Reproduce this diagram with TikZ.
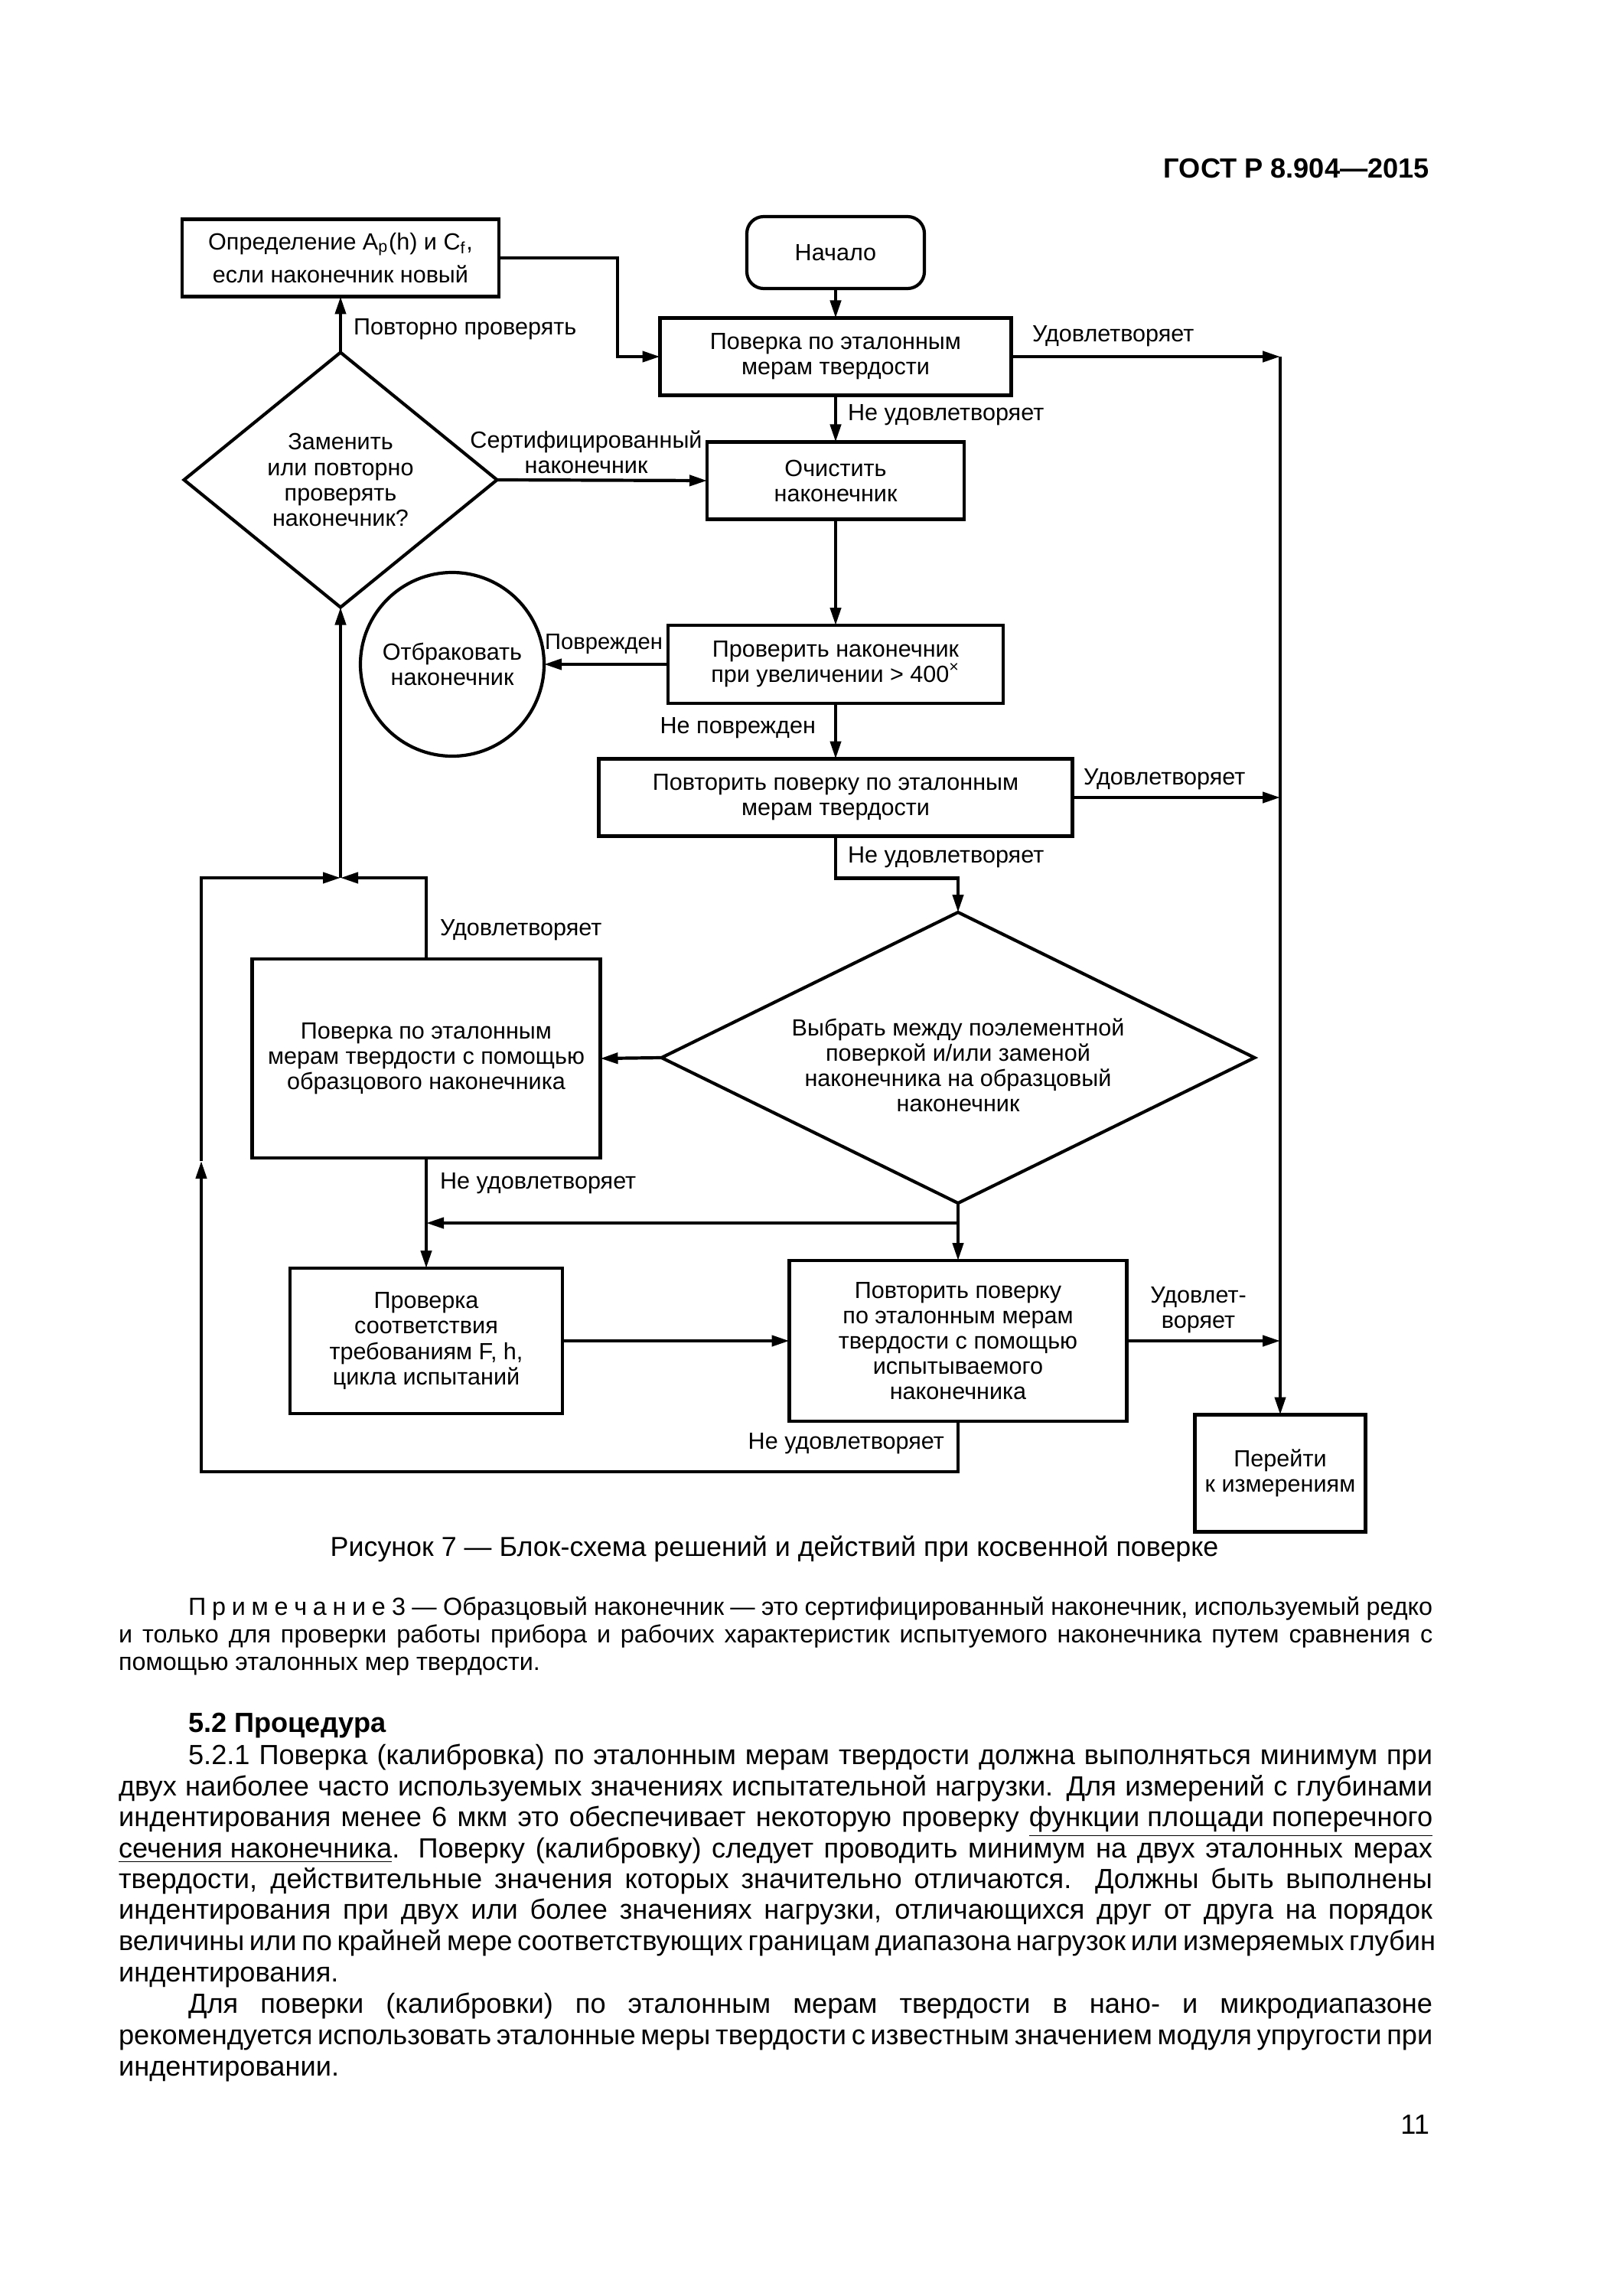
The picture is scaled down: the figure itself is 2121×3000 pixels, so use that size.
\documentclass[tikz,border=0pt]{standalone}
\usepackage{fontspec}
\setmainfont{Liberation Sans}
\usetikzlibrary{shapes.geometric,arrows.meta,positioning}

\newcommand\chartfont{\fontsize{8.7}{9.4}\selectfont}
\newcommand\bodyfont{\fontsize{10.3}{12}\selectfont}
\newcommand\notefont{\fontsize{9.2}{10.5}\selectfont}

\tikzset{
  block/.style={draw, align=center, font=\chartfont, inner sep=0pt, outer sep=0pt},
  arr/.style={-{Triangle[length=2.3mm,width=1.4mm]}},
  lbl/.style={font=\chartfont, inner sep=0pt, align=center},
  txt/.style={inner sep=0pt, anchor=base west}
}

\begin{document}
\begin{tikzpicture}[x=0.1mm,y=-0.1mm,line width=0.42mm]
\useasboundingbox (0,0) rectangle (2121,3000);

% boxes
\node[block, minimum width=41.4mm, minimum height=10.1mm] (newtip) at (445,337) {Определение A\textsubscript{p}(h) и C\textsubscript{f},\\[1mm]если наконечник новый};
\node[block, rounded corners=2.2mm, minimum width=23.2mm, minimum height=9.4mm] (start) at (1092,330) {Начало};
\node[block, minimum width=45.9mm, minimum height=10.1mm] (check1) at (1092,466) {Поверка по эталонным\\мерам твердости};
\node[block, minimum width=33.6mm, minimum height=10.1mm] (clean) at (1092,628) {Очистить\\наконечник};
\node[block, minimum width=43.8mm, minimum height=10.2mm] (insp) at (1092,868) {Проверить наконечник\\при увеличении > 400\textsuperscript{×}};
\node[block, circle, minimum size=24mm] (reject) at (591,868) {Отбраковать\\наконечник};
\node[block, minimum width=61.9mm, minimum height=10.1mm] (rep1) at (1092,1042) {Повторить поверку по эталонным\\мерам твердости};
\node[block, minimum width=45.5mm, minimum height=26mm] (refbox) at (557,1383) {Поверка по эталонным\\мерам твердости с помощью\\образцового наконечника};
\node[block, minimum width=35.6mm, minimum height=19mm] (reqbox) at (557,1752) {Проверка\\соответствия\\требованиям F, h,\\цикла испытаний};
\node[block, minimum width=44.1mm, minimum height=21mm] (rep2) at (1252,1752) {Повторить поверку\\по эталонным мерам\\твердости с помощью\\испытываемого\\наконечника};
\node[block, minimum width=22.3mm, minimum height=15.3mm] (go) at (1673,1925) {Перейти\\к измерениям};

% decisions
\node[block, diamond, minimum width=40.9mm, minimum height=33.3mm] (dec1) at (445,627) {};
\node[lbl] (dec1txt) at (dec1) {Заменить\\или повторно\\проверять\\наконечник?};
\node[block, diamond, minimum width=77.5mm, minimum height=38mm] (dec2) at (1252,1382) {};
\node[lbl] (dec2txt) at (1252,1392) {Выбрать между поэлементной\\поверкой и/или заменой\\наконечника на образцовый\\наконечник};

% connectors
\coordinate (rtop) at (1673,466);
\coordinate (junc) at (445,1147);
\coordinate (lowleft) at (263,1923);
\coordinate (midleft) at (263,1517);
\coordinate (split) at (1252,1598);
\draw[arr] (start) -- (check1);
\draw[arr] (check1) -- (clean);
\draw[arr] (clean) -- (insp);
\draw[arr] (insp) -- (rep1);
\draw[arr] (newtip.east) -- ++(155,0) |- (check1.west);
\draw[arr] (check1.east) -- (rtop);
\draw[arr] (rep1.east) -- (rep1.east -| rtop);
\draw[arr] (rep2.east) -- (rep2.east -| rtop);
\draw[arr] (rtop) -- (go.north);
\draw[arr] (dec1.north) -- (newtip.south);
\draw[arr] (dec1.east) -- (clean.west);
\draw[arr] (insp.west) -- (reject.east);
\draw[arr] (rep1.south) -- ++(0,55) -| (dec2.north);
\draw[arr] (dec2.west) -- (refbox.east);
\draw[arr] (refbox.north) |- (junc);
\draw[arr] (junc) -- (dec1.south);
\draw[arr] (rep2.south) |- (lowleft) -- (midleft);
\draw[arr] (midleft) |- (junc);
\draw[arr] (refbox.south) -- (reqbox.north);
\draw[arr] (split) -- (split -| reqbox.north);
\draw[arr] (dec2.south) -- (rep2.north);
\draw[arr] (reqbox.east) -- (rep2.west);

% labels
\node[lbl, anchor=base west] (lretry) at (460,438) {Повторно проверять};
\node[lbl, anchor=base west] (lok1) at (1347,447) {Удовлетворяет};
\node[lbl, anchor=base west] (lfail1) at (1106,550) {Не удовлетворяет};
\node[lbl] (lcert) at (766,591) {Сертифицированный\\наконечник};
\node[lbl, anchor=base east, font=\fontsize{8.3}{9.4}\selectfont] (ldmg) at (868,848) {Поврежден};
\node[lbl, anchor=base east] (lnodmg) at (1068,958) {Не поврежден};
\node[lbl, anchor=base west] (lok2) at (1414,1025) {Удовлетворяет};
\node[lbl, anchor=base west] (lfail2) at (1106,1127) {Не удовлетворяет};
\node[lbl, anchor=base west] (lok3) at (573,1222) {Удовлетворяет};
\node[lbl, anchor=base west] (lfail3) at (573,1553) {Не удовлетворяет};
\node[lbl] (lok4) at (1566,1712) {Удовлет-\\воряет};
\node[lbl, anchor=base east] (lfail4) at (1236,1893) {Не удовлетворяет};

% page text
\node[txt, anchor=base east, font=\bodyfont\bfseries] (hdr) at (1870,233) {ГОСТ Р 8.904—2015};
\node[txt, anchor=base, font=\fontsize{10.2}{12}\selectfont] (caption) at (1012,2033) {Рисунок 7 — Блок-схема решений и действий при косвенной поверке};

\node[txt, font=\notefont] (note1) at (244,2110) {\makebox[162.6mm][s]{П\kern2.2pt р\kern2.2pt и\kern2.2pt м\kern2.2pt е\kern2.2pt ч\kern2.2pt а\kern2.2pt н\kern2.2pt и\kern2.2pt е 3 — Образцовый наконечник — это сертифицированный наконечник, используемый редко}};
\node[txt, font=\notefont] (note2) at (153,2146) {\makebox[171.7mm][s]{и только для проверки работы прибора и рабочих характеристик испытуемого наконечника путем сравнения с}};
\node[txt, font=\notefont] (note3) at (153,2182) {помощью эталонных мер твердости.};

\node[txt, font=\bodyfont\bfseries] (sect) at (244,2263) {5.2 Процедура};
\node[txt, font=\bodyfont] (p1) at (244,2305) {\makebox[162.6mm][s]{5.2.1 Поверка (калибровка) по эталонным мерам твердости должна выполняться минимум при}};
\node[txt, font=\bodyfont] (p2) at (153,2346) {\makebox[171.7mm][s]{двух наиболее часто используемых значениях испытательной нагрузки. Для измерений с глубинами}};
\node[txt, font=\bodyfont] (p3) at (153,2386) {\makebox[171.7mm][s]{индентирования менее 6 мкм это обеспечивает некоторую проверку \underline{функции площади поперечного}}};
\node[txt, font=\bodyfont] (p4) at (153,2427) {\makebox[171.7mm][s]{\underline{сечения наконечника}. Поверку (калибровку) следует проводить минимум на двух эталонных мерах}};
\node[txt, font=\bodyfont] (p5) at (153,2467) {\makebox[171.7mm][s]{твердости, действительные значения которых значительно отличаются. Должны быть выполнены}};
\node[txt, font=\bodyfont] (p6) at (153,2507) {\makebox[171.7mm][s]{индентирования при двух или более значениях нагрузки, отличающихся друг от друга на порядок}};
\node[txt, font=\bodyfont] (p7) at (153,2548) {\makebox[171.7mm][s]{величины или по крайней мере соответствующих границам диапазона нагрузок или измеряемых глубин}};
\node[txt, font=\bodyfont] (p8) at (153,2589) {индентирования.};
\node[txt, font=\bodyfont] (p9) at (244,2630) {\makebox[162.6mm][s]{Для поверки (калибровки) по эталонным мерам твердости в нано- и микродиапазоне}};
\node[txt, font=\bodyfont] (p10) at (153,2671) {\makebox[171.7mm][s]{рекомендуется использовать эталонные меры твердости с известным значением модуля упругости при}};
\node[txt, font=\bodyfont] (p11) at (153,2712) {индентировании.};
\node[txt, anchor=base east, font=\bodyfont] (pageno) at (1870,2788) {11};
\end{tikzpicture}
\end{document}
